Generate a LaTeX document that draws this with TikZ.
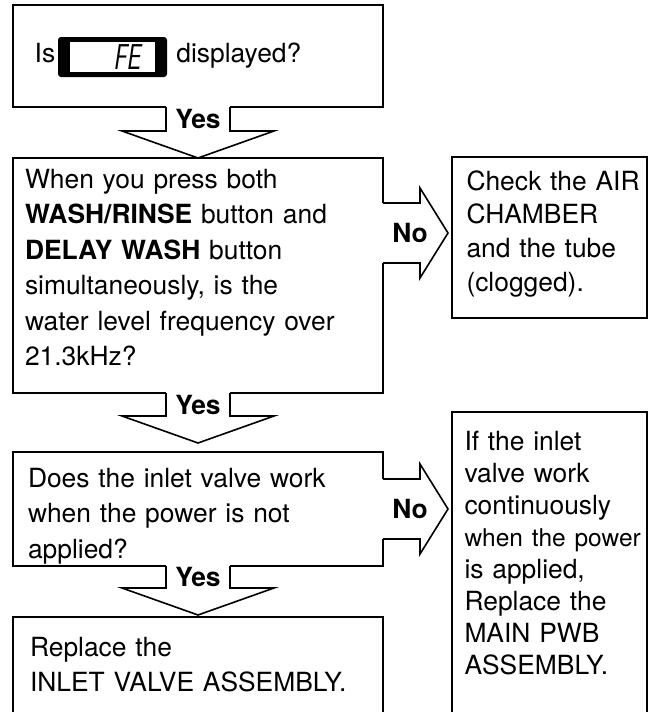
\documentclass[tikz,border=0pt]{standalone}
\usepackage{fontspec}
\usepackage{graphicx}
\setmainfont{TeX Gyre Heros}
\usetikzlibrary{calc,positioning}

% down arrow with "Yes" from one box to the next
\newcommand\yesarrow[4]{%
  \pgfmathsetmacro\headup{#4+27}
  \coordinate (#1h) at ($(#3.north)+(0,-\headup)$);
  \fill[white] ($(#2.south)+(-32,-2)$) rectangle ($(#2.south)+(32,2)$);
  \draw[flow] ($(#2.south)+(-32,0)$) -- ($(#1h)+(-32,0)$) -- ($(#1h)+(-76,0)$)
    -- ($(#3.north)+(0,-#4)$) -- ($(#1h)+(76,0)$) -- ($(#1h)+(32,0)$)
    -- ($(#2.south)+(32,0)$);
  \node[answer] (#1) at ($(#2.south)!.5!(#1h)$) {Yes};
}
% side arrow with "No"
\newcommand\noarrow[4]{%
  \coordinate (#1s) at (#2.east |- #4);
  \coordinate (#1t) at ($(#3.west |- #4)+(-4,0)$);
  \fill[white] ($(#1s)+(-2,-30)$) rectangle ($(#1s)+(2,30)$);
  \draw[flow] ($(#1s)+(0,-30)$) -- ($(#1s)+(37,-30)$) -- ($(#1s)+(37,-45)$)
    -- (#1t) -- ($(#1s)+(37,45)$) -- ($(#1s)+(37,30)$) -- ($(#1s)+(0,30)$);
  \node[answer] (#1) at ($(#1s)+(27,0)$) {No};
}

\begin{document}
\begin{tikzpicture}[
  x=1pt, y=-1pt,
  box/.style={draw,line width=1.8pt,anchor=north west,align=left,inner ysep=0pt,
    outer sep=0pt,font=\fontsize{26.4pt}{35.5pt}\selectfont},
  flow/.style={line width=1.6pt,line join=miter},
  answer/.style={inner sep=0pt,font=\bfseries\fontsize{26.4pt}{30pt}\selectfont},
  word/.style={inner sep=0pt,font=\fontsize{26.4pt}{35.5pt}\selectfont},
  lcd/.style={fill=black,rounded corners=3pt,minimum width=109pt,minimum height=40pt,inner sep=0pt},
  lcdface/.style={fill=white,minimum width=85pt,minimum height=30pt,inner sep=0pt},
  segment/.style={inner sep=0pt,font=\sffamily\itshape\fontsize{36pt}{36pt}\selectfont}
]
  \useasboundingbox (0,0) rectangle (651,712);
  \clip (0,0) rectangle (651,712);

  % left column
  \node[box,minimum width=370pt,minimum height=102pt] (q1) at (13,5) {};
  \node[box,minimum width=370pt,inner xsep=12pt,text width=346pt,
    text height=30pt,text depth=205pt] (q2) at (13,158)
    {When you press both\\
     \textbf{WASH/RINSE} button and\\
     \textbf{DELAY WASH} button\\
     simultaneously, is the\\
     water level frequency over\\
     21.3kHz?};
  \node[box,minimum width=370pt,inner xsep=15pt,text width=340pt,
    text height=35pt,text depth=79pt] (q3) at (13,452)
    {Does the inlet valve work\\
     when the power is not\\
     applied?};
  \node[box,minimum width=370pt,inner xsep=17pt,text width=336pt,
    text height=39pt,text depth=120pt] (q4) at (13,617)
    {Replace the\\
     INLET VALVE ASSEMBLY.};

  % right column
  \node[box,minimum width=195pt,inner xsep=14.5pt,text width=166pt,
    text height=33pt,text depth=128pt,font=\fontsize{26.4pt}{33.7pt}\selectfont] (c1) at (452,157)
    {\mbox{Check the AIR}\\
     CHAMBER\\
     and the tube\\
     (clogged).};
  \node[box,minimum width=195pt,inner xsep=12.5pt,text width=170pt,
    text height=38pt,text depth=300pt,font=\fontsize{26.4pt}{32pt}\selectfont] (c2) at (452,412)
    {If the inlet\\
     valve work\\
     continuously\\
     \mbox{\fontsize{24.5pt}{32pt}\selectfont when the power}\\
     is applied,\\
     Replace the\\
     MAIN PWB\\
     ASSEMBLY.};

  % question with the display
  \node[word,anchor=base west] (is) at (34.5,62) {Is};
  \node[lcd] (lcd) at (112.5,57) {};
  \node[lcdface] (face) at (lcd) {};
  \node[segment,anchor=east] (fe) at ([xshift=-14pt]face.east) {\scalebox{0.7}[1]{FE}};
  \node[word,anchor=base west] (disp) at ([xshift=9pt]lcd.east |- is.base) {displayed?};

  % connectors
  \yesarrow{yes1}{q1}{q2}{0}
  \yesarrow{yes2}{q2}{q3}{9}
  \yesarrow{yes3}{q3}{q4}{2}
  \coordinate (n1) at ($(c1.west)+(0,-4.5)$);
  \noarrow{no1}{q2}{c1}{n1}
  \noarrow{no2}{q3}{c2}{q3.east}
\end{tikzpicture}
\end{document}
